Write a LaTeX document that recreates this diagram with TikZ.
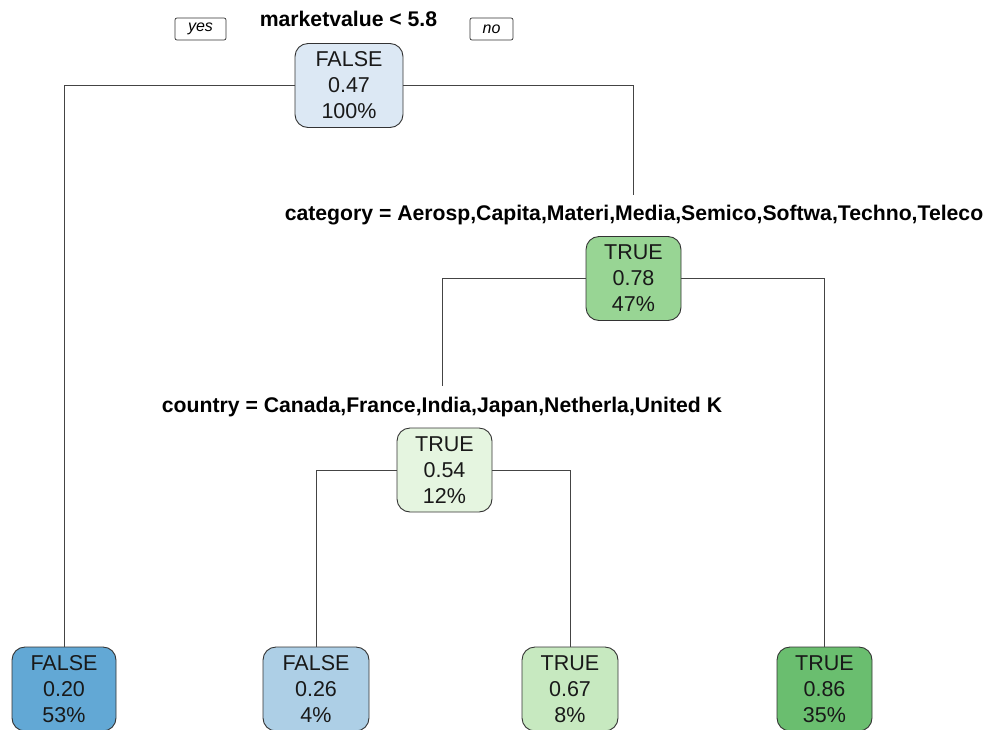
\documentclass[tikz,border=0pt]{standalone}
\usepackage{fontspec}
\setmainfont{Liberation Sans}
\definecolor{c20}{HTML}{62A8D5}
\definecolor{c26}{HTML}{ADCFE6}
\definecolor{c47}{HTML}{DCE8F4}
\definecolor{c54}{HTML}{E5F5E0}
\definecolor{c67}{HTML}{C7E9C0}
\definecolor{c78}{HTML}{98D594}
\definecolor{c86}{HTML}{6ABE6F}
\definecolor{edgec}{HTML}{333333}
\definecolor{linec}{HTML}{444444}
\tikzset{
  tnode/.style={draw=edgec, rounded corners=13pt, line width=0.9pt, minimum width=#1, minimum height=84pt, align=center, font=\fontsize{21.5}{26}\selectfont, inner sep=0pt, text=black!90},
  splitlab/.style={font=\fontsize{21.2}{24}\bfseries\selectfont, inner sep=0pt, anchor=base},
  yesno/.style={draw=edgec, rounded corners=2pt, line width=0.7pt, minimum width=#1, minimum height=22pt, inner sep=0pt, font=\fontsize{16}{18}\itshape\selectfont},
  conn/.style={draw=linec, line width=0.9pt}
}
\begin{document}
\begin{tikzpicture}[x=1pt,y=-1pt]
\useasboundingbox (0,0) rectangle (988,729);
\node[tnode=108pt, fill=c47] (root) at (349,85.5) {FALSE\\0.47\\100\%};
\node[splitlab] (mv) at (348.5,26) {marketvalue < 5.8};
\node[yesno=51pt] (yes) at (200.5,29) {yes};
\node[yesno=43pt] (no) at (491.5,29) {no};
\node[splitlab] (cat) at (634,220) {category = Aerosp,Capita,Materi,Media,Semico,Softwa,Techno,Teleco};
\node[tnode=95pt, fill=c78] (n2) at (633.5,278.5) {TRUE\\0.78\\47\%};
\node[splitlab] (ctry) at (442,412) {country = Canada,France,India,Japan,Netherla,United K};
\node[tnode=95pt, fill=c54] (n3) at (444.5,470) {TRUE\\0.54\\12\%};
\node[tnode=104pt, fill=c20] (b1) at (64,689) {FALSE\\0.20\\53\%};
\node[tnode=106pt, fill=c26] (b2) at (316,689) {FALSE\\0.26\\4\%};
\node[tnode=96pt, fill=c67] (b3) at (570,689) {TRUE\\0.67\\8\%};
\node[tnode=95pt, fill=c86] (b4) at (824.5,689) {TRUE\\0.86\\35\%};
\coordinate (ctop) at (633,195);
\coordinate (ktop) at (442,386);
\draw[conn] (root.west) -| (b1.north);
\draw[conn] (root.east) -| (ctop);
\draw[conn] (n2.west) -| (ktop);
\draw[conn] (n2.east) -| (b4.north);
\draw[conn] (n3.west) -| (b2.north);
\draw[conn] (n3.east) -| (b3.north);
\end{tikzpicture}
\end{document}
